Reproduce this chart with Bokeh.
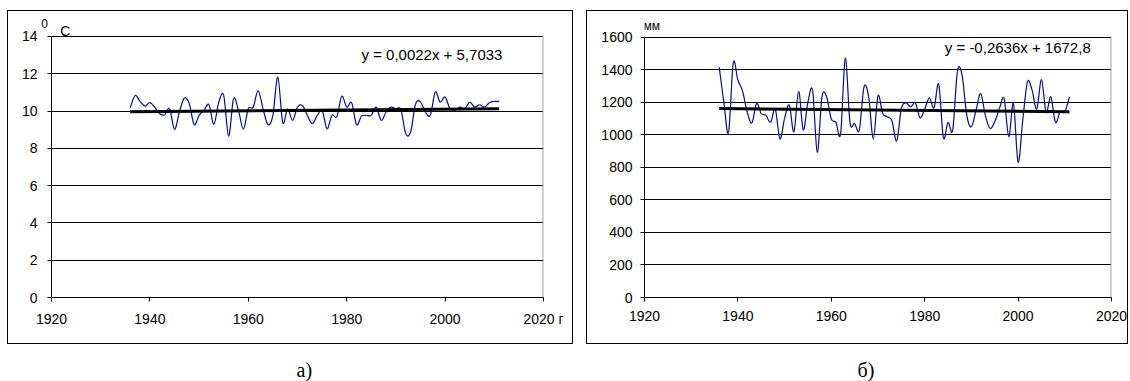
import numpy as np
from bokeh.plotting import figure
from bokeh.models import Range1d, FixedTicker, Label, Spacer
from bokeh.layouts import column, row
from bokeh.embed import file_html
from bokeh.resources import INLINE

# ---------------- data ----------------
years = list(range(1936, 2012))
temp = [
    10.18, 10.84, 10.52, 10.27, 10.45, 10.20, 9.86, 9.80, 10.12, 9.02,   # 1936-1945
    9.95, 10.70, 10.40, 9.27, 9.77, 10.04, 10.34, 9.29, 10.48, 10.84,    # 1946-1955
    8.66, 10.66, 10.04, 9.02, 10.12, 10.21, 11.10, 10.12, 9.27, 9.77,    # 1956-1965
    11.82, 9.38, 10.12, 9.50, 10.21, 10.30, 9.77, 9.32, 9.75, 10.04,     # 1966-1975
    9.05, 9.77, 9.71, 10.80, 10.21, 10.45, 9.27, 9.73, 9.77, 9.77,       # 1976-1985
    10.21, 9.50, 9.95, 10.21, 10.12, 10.09, 8.79, 8.88, 10.39, 10.48,    # 1986-1995
    9.95, 9.77, 11.02, 10.48, 10.75, 10.12, 10.04, 10.21, 10.12, 10.48,  # 1996-2005
    10.21, 10.34, 10.21, 10.45, 10.52, 10.52,                            # 2006-2011
]
precip = [
    1418, 1200, 1016, 1443, 1337, 1270, 1140, 1075, 1194, 1131,   # 1936-1945
    1122, 1078, 1159, 976, 1102, 1184, 1020, 1269, 1031, 1204,    # 1946-1955
    1273, 894, 1235, 1235, 1098, 1078, 1010, 1473, 1078, 1071,    # 1956-1965
    1031, 1296, 1235, 976, 1241, 1133, 1112, 1086, 963, 1163,     # 1966-1975
    1198, 1173, 1198, 1106, 1159, 1229, 1167, 1312, 984, 1078,    # 1976-1985
    1031, 1390, 1370, 1122, 1051, 1153, 1255, 1118, 1041, 1082,   # 1986-1995
    1163, 1224, 990, 1194, 833, 1092, 1327, 1276, 1159, 1341,     # 1996-2005
    1139, 1235, 1078, 1143, 1143, 1235,                           # 2006-2011
]
x_ticks = [1920, 1940, 1960, 1980, 2000, 2020]
temp_ticks = [0, 2, 4, 6, 8, 10, 12, 14]
precip_ticks = [0, 200, 400, 600, 800, 1000, 1200, 1400, 1600]
temp_trend = (0.0022, 5.7033)
precip_trend = (-0.2636, 1672.8)
temp_eq = "y = 0,0022x + 5,7033"
precip_eq = "y = -0,2636x + 1672,8"
captions = ["а)", "б)"]

SANS = "Liberation Sans"
SERIF = "Liberation Serif"
BLUE = "#0a0a96"


def smooth_segments(xs, ys):
    xs = np.asarray(xs, float)
    ys = np.asarray(ys, float)
    n = len(xs)
    xp = np.concatenate([[xs[0]], xs, [xs[-1]]])
    yp = np.concatenate([[ys[0]], ys, [ys[-1]]])
    return dict(
        x0=xs[:-1], y0=ys[:-1], x1=xs[1:], y1=ys[1:],
        cx0=xs[:-1] + (xp[2:n + 1] - xp[0:n - 1]) / 6.0,
        cy0=ys[:-1] + (yp[2:n + 1] - yp[0:n - 1]) / 6.0,
        cx1=xs[1:] - (xp[3:n + 2] - xp[1:n]) / 6.0,
        cy1=ys[1:] - (yp[3:n + 2] - yp[1:n]) / 6.0,
    )


def txt(x, y, text, size, font=SANS):
    return Label(x=x, y=y, text=text, text_font=font, text_font_size=size,
                 text_baseline="middle", text_color="#000000")


def panel(width, yticks, ytop, ys, trend, borders, label_standoff):
    left, right, top, bottom = borders
    p = figure(width=width, height=332,
               x_range=Range1d(x_ticks[0], x_ticks[-1]),
               y_range=Range1d(yticks[0], ytop),
               output_backend="svg", toolbar_location=None,
               min_border_left=left, min_border_right=right,
               min_border_top=top, min_border_bottom=bottom)
    p.background_fill_color = "white"
    p.border_fill_color = "white"
    p.outline_line_color = None
    p.xgrid.visible = False
    p.ygrid.grid_line_color = "#000000"
    p.ygrid.grid_line_width = 1
    p.xaxis.ticker = FixedTicker(ticks=x_ticks)
    p.yaxis.ticker = FixedTicker(ticks=yticks)
    p.yaxis.bounds = (yticks[0], yticks[-1])
    for ax in (p.xaxis, p.yaxis):
        ax.axis_line_color = "#000000"
        ax.axis_line_width = 1
        ax.major_tick_line_color = "#000000"
        ax.major_tick_in = 0
        ax.major_tick_out = 4
        ax.minor_tick_in = 0
        ax.minor_tick_out = 0
        ax.major_label_text_font = SANS
        ax.major_label_text_font_size = "14px"
        ax.major_label_text_color = "#000000"
    p.xaxis.major_label_standoff = 9
    p.yaxis.major_label_standoff = label_standoff
    # plot-area border on the right side
    p.segment(x0=[x_ticks[-1]], y0=[yticks[0]], x1=[x_ticks[-1]], y1=[yticks[-1]],
              line_color="#a6a6a6", line_width=2)
    seg = smooth_segments(years, ys)
    p.bezier(line_color=BLUE, line_width=1.2, **seg)
    a, b = trend
    tx = [years[0], years[-1]]
    p.line(tx, [a * x + b for x in tx], line_color="#000000", line_width=3)
    return p


pa = panel(564, temp_ticks, 14.697, temp, temp_trend, (43, 29, 12, 46), 10)
pa.xaxis.major_label_overrides = {2020: "2020 г"}
# the raised "0" of the unit label sits left of the axis: use the axis label
pa.yaxis.axis_label = "0"
pa.yaxis.axis_label_orientation = "horizontal"
pa.yaxis.axis_label_align = "end"
pa.yaxis.axis_label_standoff = -29
pa.yaxis.axis_label_text_font = SANS
pa.yaxis.axis_label_text_font_size = "12px"
pa.yaxis.axis_label_text_font_style = "normal"
pa.yaxis.axis_label_text_color = "#000000"
pa.add_layout(txt(1983.0, 13.04, temp_eq, "15px"))
pa.add_layout(txt(1921.8, 14.3, "C", "14px"))

pb = panel(540, precip_ticks, 1729.2, precip, precip_trend, (57, 16, 5, 46), 8)
pb.add_layout(txt(1984.3, 1538, precip_eq, "15px"))
pb.add_layout(txt(1919.8, 1671, "мм", "12px"))

box_a = column(pa, styles={"border": "1px solid #000000"})
box_b = column(pb, styles={"border": "1px solid #000000"})

cap = figure(width=1128, height=37, x_range=Range1d(0, 1128), y_range=Range1d(0, 37),
             output_backend="svg", toolbar_location=None, min_border=0,
             x_axis_type=None, y_axis_type=None)
cap.outline_line_color = None
cap.xgrid.visible = False
cap.ygrid.visible = False
cap.add_layout(Label(x=296, y=12, text=captions[0], text_font=SERIF,
                     text_font_size="20px", text_baseline="middle", text_color="#000000"))
cap.add_layout(Label(x=857, y=12, text=captions[1], text_font=SERIF,
                     text_font_size="20px", text_baseline="middle", text_color="#000000"))

layout = column(
    Spacer(width=10, height=10),
    row(Spacer(width=7, height=10), box_a, Spacer(width=13, height=10), box_b),
    cap,
)
open("out.html", "w").write(file_html(layout, INLINE))
